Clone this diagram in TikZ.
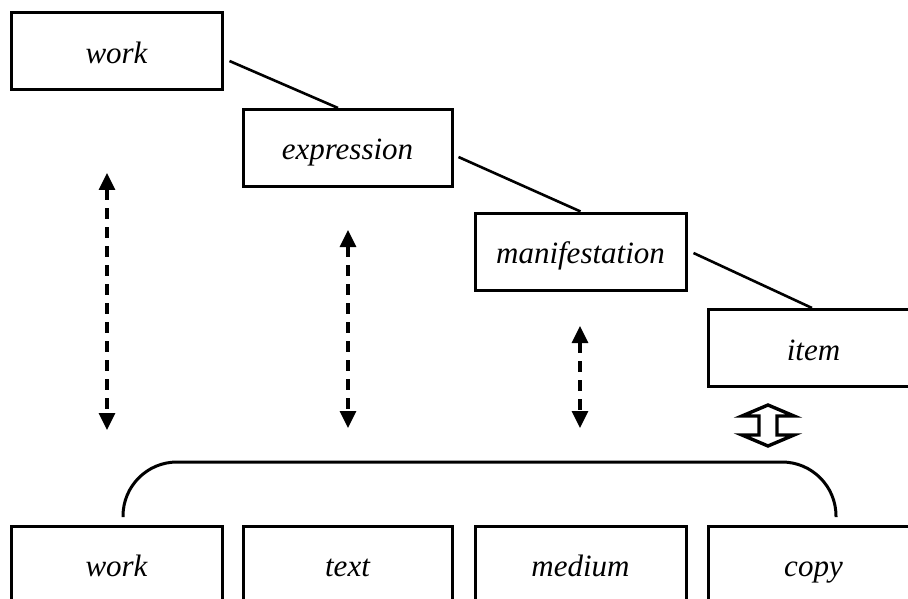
\documentclass[tikz,border=0pt]{standalone}
\usepackage{fontspec}
\setmainfont{Liberation Serif}
\usetikzlibrary{arrows.meta,calc}
\tikzset{
  box/.style={draw, line width=3pt, minimum width=211pt, minimum height=77pt,
    inner sep=0pt, text height=30pt, text depth=6pt,
    font=\itshape\fontsize{31}{37}\selectfont},
  link/.style={line width=2.6pt},
  relation/.style={line width=3.2pt, dash pattern=on 11pt off 8pt,
    {Triangle[width=16pt,length=17pt]}-{Triangle[width=16pt,length=17pt]}},
  bracket/.style={line width=3pt, rounded corners=54pt},
  hollowarrow/.style={line width=3.4pt, line join=miter, fill=white},
}
\begin{document}
\begin{tikzpicture}[x=1pt, y=-1pt]
  \useasboundingbox (0,0) rectangle (908,599);
  \clip (0,0) rectangle (908,599);

  % FRBR group 1 entities, stepped down to the right
  \node[box] (work) at (116.5,51.5) {work};
  \node[box, minimum width=209pt] (expression) at (347.5,148) {expression};
  \node[box] (manifestation) at (580.5,251.5) {manifestation};
  \node[box] (item) at (813.5,348) {item};

  % bibliographic terms in the bottom row
  \node[box] (bwork) at (116.5,564.5) {work};
  \node[box, minimum width=209pt] (btext) at (347.5,564.5) {text};
  \node[box] (bmedium) at (580.5,564.5) {medium};
  \node[box] (bcopy) at (813.5,564.5) {copy};

  % hierarchy links
  \draw[link] ($(work.east)+(6,9.5)$) -- ($(expression.north)+(-9.5,0)$);
  \draw[link] ($(expression.east)+(5,9)$) -- (manifestation.north);
  \draw[link] ($(manifestation.east)+(6,1.5)$) -- ($(item.north)+(-1.5,0)$);

  % correspondences
  \coordinate (r1a) at (107,173);  \coordinate (r1b) at (107,430);
  \coordinate (r2a) at (348,230);  \coordinate (r2b) at (348,428);
  \coordinate (r3a) at (580,326);  \coordinate (r3b) at (580,428);
  \draw[relation] (r1a) -- (r1b);
  \draw[relation] (r2a) -- (r2b);
  \draw[relation] (r3a) -- (r3b);

  % bracket grouping the bottom row
  \coordinate (brL) at (123,517);
  \coordinate (brR) at (836,517);
  \draw[bracket] (brL) |- (480,462) -| (brR);

  % hollow double arrow between item and the bracket
  \draw[hollowarrow] (768,405) -- (794,416) -- (777,416) -- (777,435)
    -- (794,435) -- (768,446) -- (742,435) -- (759,435) -- (759,416)
    -- (742,416) -- cycle;
\end{tikzpicture}
\end{document}
